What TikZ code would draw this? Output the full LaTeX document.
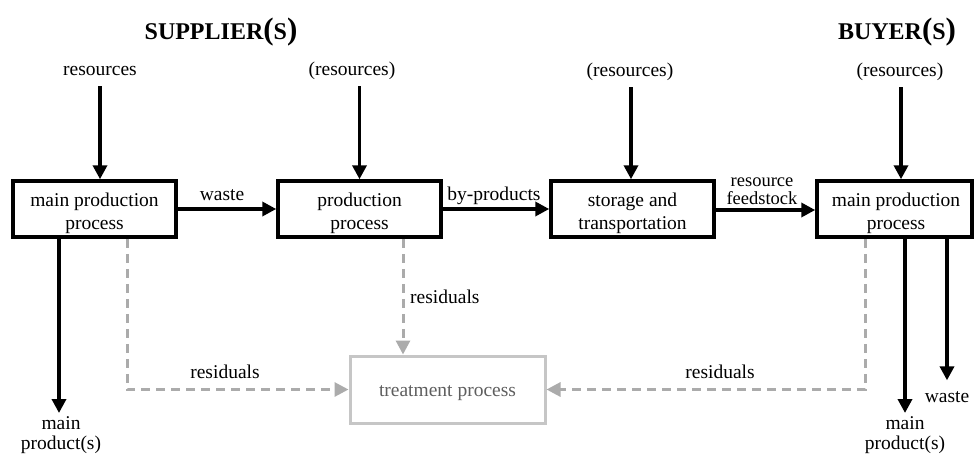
\documentclass[tikz,border=0pt]{standalone}
\usepackage{fontspec}
\setmainfont{Liberation Serif}
\usetikzlibrary{arrows.meta}
\definecolor{dashgray}{HTML}{ABABAB}
\definecolor{boxgray}{HTML}{C6C6C6}
\definecolor{txtgray}{HTML}{5E5E5E}
\begin{document}
\begin{tikzpicture}[x=1pt,y=-1pt,
  lbl/.style={font=\fontsize{19.5}{20}\selectfont, inner sep=0pt, align=center},
  reslbl/.style={lbl, anchor=base, text depth=4pt},
  boxtxt/.style={font=\fontsize{19.5}{23}\selectfont, inner sep=0pt, align=center},
  proc/.style={draw, line width=3.5pt, minimum width=163pt, minimum height=56pt, inner sep=0pt},
  flow/.style={line width=3.5pt, -{Triangle[length=14pt,width=14pt]}},
  resid/.style={line width=3pt, dashgray, dash pattern=on 9pt off 6pt, -{Triangle[length=14pt,width=14pt]}},
  title/.style={inner sep=0pt, anchor=base}]
\useasboundingbox (0,0) rectangle (974,459);

% party headings
\node[title] (sup) at (221,39) {\fontsize{24}{24}\selectfont\bfseries SUPPLIER\fontsize{31}{31}\selectfont(\fontsize{24}{24}\selectfont S\fontsize{31}{31}\selectfont)};
\node[title] (buy) at (897,39) {\fontsize{24}{24}\selectfont\bfseries BUYER\fontsize{31}{31}\selectfont(\fontsize{24}{24}\selectfont S\fontsize{31}{31}\selectfont)};

% process boxes
\node[proc] (b1) at (94.5,209) {};
\node[boxtxt] (b1t) at (94.5,213.5) {main production\\process};
\node[proc] (b2) at (359.5,209) {};
\node[boxtxt] (b2t) at (359.5,213.5) {production\\process};
\node[proc] (b3) at (632.5,209) {};
\node[boxtxt] (b3t) at (632.5,213.5) {storage and\\transportation};
\node[proc, minimum width=155pt] (b4) at (894.5,209) {};
\node[boxtxt] (b4t) at (896,213.5) {main production\\process};

% treatment box
\node[draw=boxgray, line width=3pt, minimum width=195pt, minimum height=67pt, inner sep=0pt] (tr) at (447.5,389.5) {};
\node[lbl, text=txtgray] (trt) at (447.5,393) {treatment process};

% resource inputs
\node[reslbl] (r1) at (100,75) {resources};
\node[reslbl] (r2) at (352,75) {(resources)};
\node[reslbl] (r3) at (630,76) {(resources)};
\node[reslbl] (r4) at (900,76) {(resources)};
\draw[flow, shorten <=7pt] (r1.south) -- ([xshift=5.5pt]b1.north);
\draw[flow, shorten <=7pt] (r2.south -| b2.north) -- (b2.north);
\draw[flow, shorten <=7pt] ([xshift=-1.5pt]r3.south -| b3.north) -- ([xshift=-1.5pt]b3.north);
\draw[flow, shorten <=7pt] ([xshift=6.5pt]r4.south -| b4.north) -- ([xshift=6.5pt]b4.north);

% flows between processes
\draw[flow] (b1.east) -- (b2.west);
\node[lbl, anchor=base] (lw) at (222,200) {waste};
\draw[flow] (b2.east) -- (b3.west);
\node[lbl, anchor=base] (lb) at (494,200) {by-products};
\draw[flow] ([yshift=-1pt]b3.east) -- ([yshift=-1pt]b4.west);
\node[lbl, font=\fontsize{18.5}{18}\selectfont] (lf) at (762,191) {resource\\feedstock};

% outputs
\node[lbl, anchor=north] (mp1) at (61,416) {main\\product(s)};
\draw[flow, shorten >=3pt] ([xshift=-35.5pt]b1.south) -- ([xshift=-35.5pt]b1.south |- mp1.north);
\node[lbl, anchor=north] (mp2) at (905,416) {main\\product(s)};
\draw[flow, shorten >=3pt] ([xshift=10.5pt]b4.south) -- (mp2.north);
\node[lbl, anchor=base] (w2) at (947,402) {waste};
\draw[flow, shorten >=10.5pt] ([xshift=52.5pt]b4.south) -- ([xshift=52.5pt]b4.south |- w2.north);

% residual streams to treatment
\draw[resid] ([xshift=32.5pt]b1.south) |- (tr.west);
\node[lbl, anchor=base] (rs1) at (225,378) {residuals};
\draw[resid] ([xshift=43.5pt]b2.south) -- ([xshift=43.5pt]b2.south |- tr.north);
\node[lbl, anchor=base west] (rs2) at (410,303) {residuals};
\draw[resid] ([xshift=-29.5pt]b4.south) |- (tr.east);
\node[lbl, anchor=base] (rs3) at (720,378) {residuals};
\end{tikzpicture}
\end{document}
